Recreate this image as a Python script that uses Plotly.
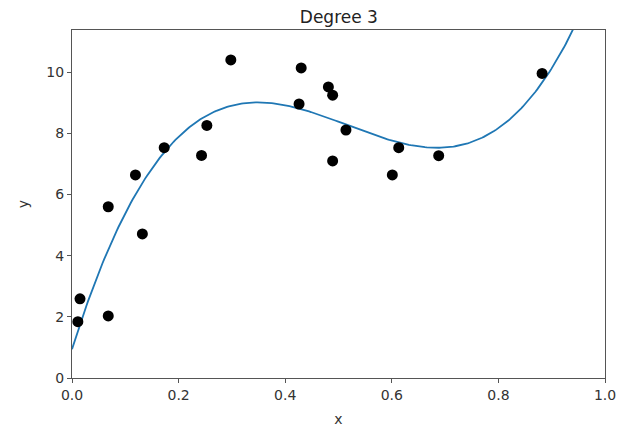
import numpy as np
import plotly.graph_objects as go

x_pts = [0.011, 0.015, 0.068, 0.068, 0.119, 0.132, 0.173, 0.243, 0.253, 0.298,
         0.426, 0.430, 0.481, 0.489, 0.489, 0.514, 0.601, 0.613, 0.688, 0.882]
y_pts = [1.84, 2.59, 5.60, 2.03, 6.64, 4.71, 7.53, 7.28, 8.26, 10.40,
         8.96, 10.14, 9.52, 9.25, 7.10, 8.11, 6.64, 7.53, 7.27, 9.96]
degree = 3
x_ticks = [0.0, 0.2, 0.4, 0.6, 0.8, 1.0]
x_tick_text = ["0.0", "0.2", "0.4", "0.6", "0.8", "1.0"]
y_ticks = [0, 2, 4, 6, 8, 10]

coef = np.polyfit(x_pts, y_pts, degree)
x_fit = np.linspace(0, 1, 300)
y_fit = np.polyval(coef, x_fit)

fig = go.Figure()
fig.add_trace(go.Scatter(x=x_fit, y=y_fit, mode="lines",
                         line=dict(color="#1f77b4", width=1.8), showlegend=False))
fig.add_trace(go.Scatter(x=x_pts, y=y_pts, mode="markers",
                         marker=dict(color="black", size=11), showlegend=False))

font = dict(family="DejaVu Sans", size=14, color="#333333")
axis_common = dict(showgrid=False, zeroline=False, showline=True, linecolor="#555555",
                   linewidth=1, mirror=True, ticks="outside", ticklen=4,
                   tickcolor="#555555", tickfont=font)
fig.update_layout(
    width=629, height=428,
    margin=dict(l=64, r=32, t=22, b=58),
    paper_bgcolor="white", plot_bgcolor="white",
    title=dict(text="Degree " + str(degree), xref="container", x=0.526, xanchor="center",
               yref="container", y=1 - 9.5 / 428, yanchor="middle",
               font=dict(family="DejaVu Sans", size=17, color="#222222")),
    xaxis=dict(range=[0, 1], tickvals=x_ticks, ticktext=x_tick_text,
               title=dict(text="x", font=font, standoff=12), **axis_common),
    yaxis=dict(range=[0, 11.38], tickvals=y_ticks,
               title=dict(text="y", font=font, standoff=14), **axis_common),
)
fig.write_html("out.html")
